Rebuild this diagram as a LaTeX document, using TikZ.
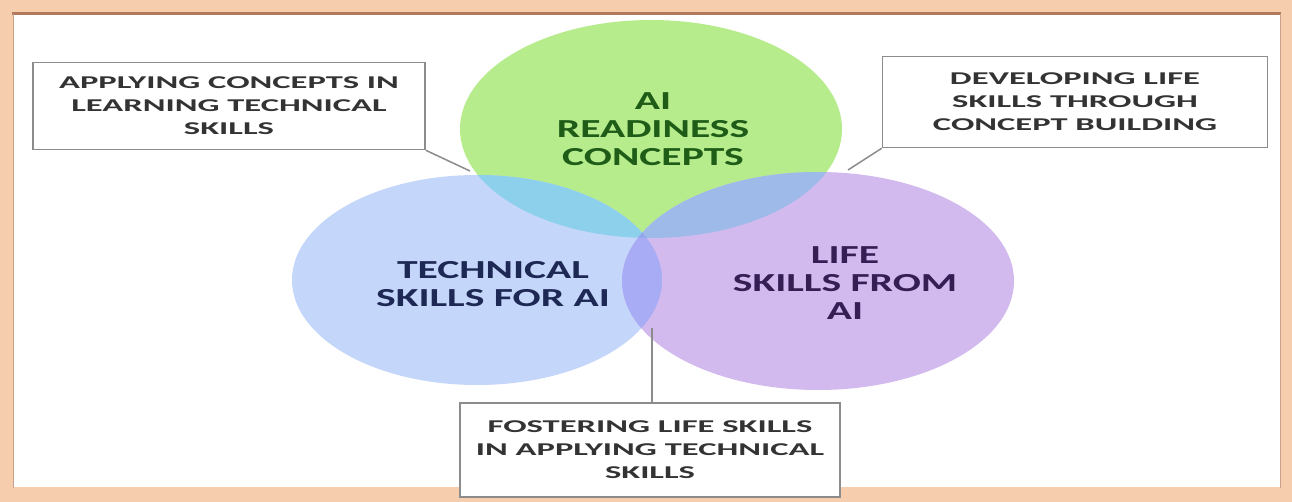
\documentclass[tikz,border=0pt]{standalone}
\usepackage{fontspec}
\setmainfont{Carlito}
\newfontfamily\vennfont{Carlito}[FakeStretch=1.6]
\newfontfamily\notefont{Carlito}[FakeStretch=1.92]
\definecolor{peach}{RGB}{246,206,174}
\definecolor{framebrown}{RGB}{178,122,92}
\definecolor{boxgray}{RGB}{140,140,140}
\definecolor{conceptgreen}{RGB}{182,236,140}
\definecolor{techblue}{RGB}{196,214,250}
\definecolor{lifelilac}{RGB}{210,186,238}
\definecolor{conctech}{RGB}{140,208,236}
\definecolor{conclife}{RGB}{158,186,232}
\definecolor{techlife}{RGB}{168,172,244}
\definecolor{allthree}{RGB}{146,168,236}
\newcommand\conceptoval{(651,129) ellipse [x radius=191, y radius=109]}
\newcommand\techoval{(477,280) ellipse [x radius=185, y radius=105]}
\newcommand\lifeoval{(818,281) ellipse [x radius=196, y radius=109]}
\begin{document}
\begin{tikzpicture}[x=1pt, y=-1pt,
    notebox/.style = {draw=boxgray, line width=1.5pt, fill=white, inner sep=0pt,
        align=center, text=black!80, font=\notefont\bfseries\fontsize{18}{23}\selectfont},
    venntext/.style = {align=center, font=\vennfont\bfseries\fontsize{26}{28}\selectfont},
    leader/.style = {draw=boxgray, line width=1.5pt}]
    % frame
    \fill[peach] (0,0) rectangle (1292,502);
    \fill[white] (13,15) rectangle (1280,487);
    \draw[framebrown, line width=3pt] (12,14) -- (1281,14);
    \draw[framebrown!70, line width=1pt] (13,14) -- (13,488) (1280,14) -- (1280,488);
    % the three ovals
    \fill[conceptgreen] \conceptoval;
    \fill[techblue] \techoval;
    \fill[lifelilac] \lifeoval;
    \begin{scope}
        \clip \conceptoval;
        \fill[conctech] \techoval;
        \fill[conclife] \lifeoval;
    \end{scope}
    \begin{scope}
        \clip \techoval;
        \fill[techlife] \lifeoval;
        \clip \lifeoval;
        \fill[allthree] \conceptoval;
    \end{scope}
    \node[venntext, text={rgb,255:red,30;green,92;blue,24}] (concepts) at (653,129) {AI\\READINESS\\CONCEPTS};
    \node[venntext, text={rgb,255:red,30;green,40;blue,84}] (technical) at (493,284) {TECHNICAL\\SKILLS FOR AI};
    \node[venntext, text={rgb,255:red,52;green,30;blue,84}] (life) at (845,283) {LIFE\\SKILLS FROM\\AI};
    % notes and leaders
    \node[notebox, minimum width=392pt, minimum height=87pt] (applying) at (229,106) {APPLYING CONCEPTS IN\\LEARNING TECHNICAL\\SKILLS};
    \node[notebox, minimum width=385pt, minimum height=91pt] (developing) at (1075,102) {DEVELOPING LIFE\\SKILLS THROUGH\\CONCEPT BUILDING};
    \node[notebox, minimum width=380pt, minimum height=94pt] (fostering) at (650,450) {FOSTERING LIFE SKILLS\\IN APPLYING TECHNICAL\\SKILLS};
    \coordinate (applyend) at (470,171);
    \coordinate (developend) at (848,170);
    \coordinate (fosterend) at (652,328);
    \draw[leader] (applying.south east) -- (applyend);
    \draw[leader] (developing.south west) -- (developend);
    \draw[leader] (fosterend) -- (fosterend |- fostering.north);
\end{tikzpicture}
\end{document}
